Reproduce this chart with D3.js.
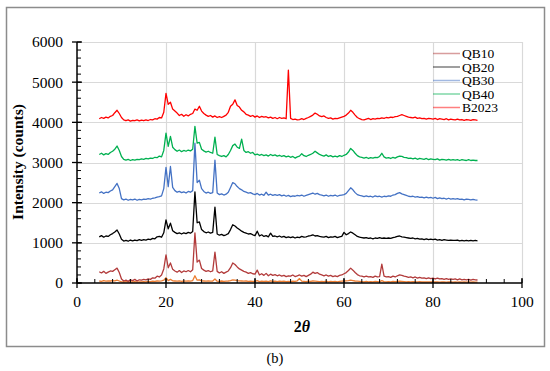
<!DOCTYPE html>
<html>
<head>
<meta charset="utf-8">
<script src="https://cdn.jsdelivr.net/npm/d3@7"></script>
<style>
  html, body { margin: 0; padding: 0; background: #fff; }
  svg text { font-family: "Liberation Serif", "Times New Roman", serif; }
</style>
</head>
<body>
<svg id="chart" width="550" height="371"></svg>
<script>
// ---- data ----
const thetaStart = 5, thetaEnd = 90, thetaStep = 0.5;
const xTicks = [0, 20, 40, 60, 80, 100];
const yTicks = [0, 1000, 2000, 3000, 4000, 5000, 6000];
const seriesNames = ["QB10", "QB20", "QB30", "QB40", "B2023"];

const B2023 = [
  4090,4120,4100,4130,4110,4150,4170,4240,4300,4220,
  4120,4060,4040,4060,4030,4050,4040,4060,4035,4055,
  4040,4060,4045,4070,4060,4090,4080,4120,4110,4250,
  4720,4450,4500,4330,4280,4230,4170,4200,4150,4190,
  4160,4200,4220,4330,4300,4400,4280,4220,4180,4150,
  4170,4130,4160,4120,4140,4120,4150,4180,4250,4400,
  4450,4560,4420,4380,4300,4260,4200,4180,4150,4170,
  4130,4160,4120,4150,4130,4140,4110,4130,4100,4120,
  4090,4120,4100,4110,4090,5300,4100,4070,4080,4060,
  4070,4090,4070,4100,4120,4150,4180,4230,4200,4160,
  4140,4160,4120,4100,4110,4080,4100,4090,4110,4130,
  4150,4180,4230,4300,4250,4180,4120,4090,4070,4060,
  4080,4100,4070,4090,4080,4100,4090,4110,4100,4120,
  4110,4130,4120,4140,4150,4170,4190,4170,4150,4130,
  4120,4110,4130,4100,4110,4090,4100,4080,4100,4090,
  4080,4100,4070,4090,4080,4070,4090,4060,4080,4070,
  4060,4080,4060,4070,4050,4070,4060,4050,4070,4060,
  4050
];
const QB40 = [
  3200,3230,3190,3220,3200,3250,3280,3330,3410,3300,
  3150,3080,3060,3080,3050,3070,3060,3080,3070,3090,
  3080,3100,3090,3110,3100,3130,3120,3160,3140,3300,
  3730,3400,3650,3380,3320,3280,3310,3270,3300,3280,
  3310,3290,3330,3900,3480,3500,3330,3290,3260,3280,
  3250,3230,3630,3200,3170,3150,3170,3140,3200,3300,
  3420,3460,3380,3350,3580,3300,3250,3270,3230,3250,
  3190,3210,3180,3200,3170,3190,3160,3200,3170,3190,
  3160,3180,3150,3170,3140,3160,3130,3150,3110,3140,
  3160,3220,3170,3150,3180,3200,3230,3280,3240,3200,
  3180,3160,3190,3150,3170,3140,3160,3140,3170,3150,
  3180,3200,3260,3350,3300,3230,3170,3140,3130,3110,
  3130,3100,3120,3110,3130,3120,3150,3230,3140,3110,
  3120,3100,3130,3110,3140,3160,3150,3130,3120,3100,
  3110,3090,3110,3080,3100,3090,3080,3100,3070,3090,
  3080,3070,3090,3060,3080,3070,3060,3080,3060,3070,
  3060,3070,3050,3070,3060,3050,3070,3050,3060,3050,
  3050
];
const QB30 = [
  2240,2270,2230,2260,2250,2290,2320,2400,2480,2350,
  2100,2070,2090,2060,2080,2070,2090,2060,2080,2070,
  2090,2080,2100,2090,2110,2120,2140,2150,2170,2350,
  2880,2400,2900,2380,2300,2260,2280,2250,2270,2240,
  2280,2260,2300,3480,2500,2560,2350,2280,2240,2260,
  2230,2250,3060,2240,2200,2220,2190,2210,2260,2380,
  2500,2470,2400,2350,2320,2280,2260,2240,2250,2220,
  2200,2230,2190,2210,2180,2260,2190,2210,2180,2200,
  2180,2200,2170,2190,2160,2180,2150,2170,2160,2180,
  2170,2190,2160,2180,2200,2220,2240,2210,2230,2200,
  2190,2170,2190,2160,2180,2170,2190,2160,2180,2190,
  2200,2230,2300,2370,2320,2250,2200,2180,2170,2150,
  2170,2150,2160,2140,2170,2150,2160,2140,2160,2150,
  2170,2160,2190,2200,2230,2250,2220,2200,2180,2160,
  2150,2160,2140,2150,2130,2140,2120,2140,2120,2130,
  2110,2130,2100,2120,2100,2110,2090,2110,2090,2100,
  2090,2100,2080,2090,2070,2090,2080,2070,2080,2070,
  2065
];
const QB20 = [
  1150,1180,1140,1170,1160,1200,1230,1270,1320,1220,
  1090,1045,1060,1040,1070,1050,1070,1055,1080,1060,
  1080,1070,1090,1080,1110,1100,1150,1160,1140,1250,
  1570,1350,1490,1300,1260,1230,1250,1220,1250,1230,
  1260,1240,1280,2270,1500,1520,1330,1280,1250,1270,
  1240,1260,1890,1220,1190,1210,1180,1200,1230,1330,
  1450,1420,1370,1330,1290,1260,1240,1220,1230,1200,
  1180,1290,1170,1200,1160,1180,1150,1240,1160,1170,
  1150,1170,1140,1160,1130,1150,1130,1150,1120,1140,
  1130,1160,1140,1150,1170,1180,1200,1170,1180,1160,
  1150,1140,1160,1130,1150,1140,1160,1130,1150,1160,
  1260,1200,1230,1270,1240,1200,1160,1140,1130,1120,
  1130,1110,1120,1100,1120,1110,1130,1110,1120,1110,
  1120,1110,1130,1140,1160,1170,1150,1140,1130,1120,
  1110,1120,1100,1110,1090,1100,1080,1100,1080,1090,
  1080,1090,1070,1080,1060,1080,1070,1060,1070,1060,
  1060,1070,1050,1060,1050,1060,1050,1060,1050,1060,
  1050
];
const QB10 = [
  280,250,290,240,270,300,290,330,370,260,
  100,50,70,40,80,60,90,50,80,70,
  90,80,100,90,130,120,170,150,200,350,
  700,380,500,340,300,270,310,260,300,280,
  310,280,330,1250,520,570,360,320,290,310,
  280,300,770,290,250,280,240,270,300,380,
  500,460,400,350,320,290,270,240,260,230,
  220,320,200,230,190,240,180,220,190,210,
  180,200,170,190,160,180,170,200,160,180,
  200,170,190,160,190,220,270,240,260,220,
  200,180,200,170,190,160,180,160,190,200,
  230,260,310,370,320,260,210,180,170,150,
  170,150,160,140,170,150,160,470,170,150,
  160,140,170,150,180,200,190,170,160,140,
  150,130,150,120,140,120,130,110,130,110,
  120,100,120,100,110,90,110,90,100,90,
  100,80,100,80,90,80,90,70,90,80,
  75
];
const baseline = [
  50,40,60,45,55,50,60,55,70,50,
  30,25,35,20,30,25,35,20,30,25,
  35,30,40,35,45,40,50,45,55,70,
  130,60,90,55,50,45,55,40,50,45,
  55,45,60,180,70,80,55,50,45,50,
  45,50,100,45,40,50,40,45,50,60,
  80,70,60,55,50,45,50,40,45,40,
  40,60,35,45,40,45,35,50,40,45,
  35,45,40,45,35,40,35,45,40,55,
  110,45,40,35,45,40,50,45,40,35,
  40,35,45,30,40,35,40,30,40,45,
  50,55,60,70,60,50,45,40,35,30,
  40,30,35,30,40,35,30,60,35,30,
  35,30,40,35,40,45,40,35,30,35,
  30,35,25,30,35,25,30,25,30,25,
  30,25,30,20,30,25,20,30,25,20,
  25,20,30,20,25,20,25,20,25,20,
  20
];

const theta = d3.range(thetaStart, thetaEnd + thetaStep / 2, thetaStep);

// ---- layout ----
const svg = d3.select("#chart");
const L = 77, R = 522, T = 42, B = 283;
const x = d3.scaleLinear().domain([0, 100]).range([L, R]);
const y = d3.scaleLinear().domain([0, 6000]).range([B, T]);

// outer frame
svg.append("rect").attr("x", 6.5).attr("y", 7.5).attr("width", 538).attr("height", 339)
  .attr("fill", "none").attr("stroke", "#8c8c8c").attr("stroke-width", 1.5);

// gridlines
const grid = svg.append("g");
grid.selectAll(".hg").data(yTicks.slice(1)).join("line")
  .attr("x1", L).attr("x2", R)
  .attr("y1", d => Math.round(y(d)) + 0.5).attr("y2", d => Math.round(y(d)) + 0.5)
  .attr("stroke", "#d9d9d9").attr("stroke-width", 1.2);
grid.selectAll(".vg").data(xTicks.slice(1)).join("line")
  .attr("y1", T).attr("y2", B)
  .attr("x1", d => Math.round(x(d)) + 0.5).attr("x2", d => Math.round(x(d)) + 0.5)
  .attr("stroke", "#d9d9d9").attr("stroke-width", 1.2);

// series
const series = [
  { name: null, data: baseline, color: "#ed7d31" },
  { name: "QB10", data: QB10, color: "#b23b3b" },
  { name: "QB20", data: QB20, color: "#000000" },
  { name: "QB30", data: QB30, color: "#4472c4" },
  { name: "QB40", data: QB40, color: "#00b050" },
  { name: "B2023", data: B2023, color: "#ff0000" }
];
const line = d3.line().x((d, i) => x(theta[i])).y(d => y(d));
svg.append("g").selectAll("path").data(series).join("path")
  .attr("d", s => line(s.data))
  .attr("fill", "none").attr("stroke", s => s.color)
  .attr("stroke-width", 1.3).attr("stroke-linejoin", "round");

// axes
const yMinor = d3.range(0, 6001, 200);
const xMinor = d3.range(0, 101, 4);
const ax = svg.append("g").attr("stroke", "#000");
ax.append("line").attr("x1", L).attr("x2", L).attr("y1", T).attr("y2", B + 0.5).attr("stroke-width", 1.5);
ax.append("line").attr("x1", L).attr("x2", R).attr("y1", B).attr("y2", B).attr("stroke-width", 1.5);
ax.selectAll(".ymi").data(yMinor).join("line")
  .attr("x1", L).attr("x2", L + 4).attr("y1", d => y(d)).attr("y2", d => y(d)).attr("stroke-width", 1);
ax.selectAll(".yma").data(yTicks).join("line")
  .attr("x1", L - 5).attr("x2", L + 5).attr("y1", d => y(d)).attr("y2", d => y(d)).attr("stroke-width", 1.3);
ax.selectAll(".xmi").data(xMinor).join("line")
  .attr("y1", B).attr("y2", B - 4).attr("x1", d => x(d)).attr("x2", d => x(d)).attr("stroke-width", 1);
ax.selectAll(".xma").data(xTicks).join("line")
  .attr("y1", B - 5).attr("y2", B + 5).attr("x1", d => x(d)).attr("x2", d => x(d)).attr("stroke-width", 1.3);

svg.append("g").selectAll("text").data(yTicks).join("text")
  .attr("x", 63).attr("y", d => y(d)).attr("dy", "0.35em")
  .attr("text-anchor", "end").attr("font-size", 15.5).text(d => d);
svg.append("g").selectAll("text").data(xTicks).join("text")
  .attr("x", d => x(d)).attr("y", 307)
  .attr("text-anchor", "middle").attr("font-size", 15.5).text(d => d);

// axis titles
svg.append("text").attr("transform", "translate(23,162) rotate(-90)")
  .attr("text-anchor", "middle").attr("font-size", 15.5).attr("font-weight", "bold")
  .text("Intensity (counts)");
const xt = svg.append("text").attr("x", 302).attr("y", 332)
  .attr("text-anchor", "middle").attr("font-size", 16).attr("font-weight", "bold");
xt.append("tspan").text("2");
xt.append("tspan").attr("font-style", "italic").text("θ");

svg.append("text").attr("x", 275).attr("y", 363).attr("text-anchor", "middle")
  .attr("font-size", 14.5).text("(b)");

// legend
const leg = svg.append("g");
const legItems = series.filter(s => s.name);
legItems.forEach((s, i) => {
  const yy = 53.5 + i * 13.5;
  leg.append("line").attr("x1", 433).attr("x2", 460).attr("y1", yy).attr("y2", yy)
    .attr("stroke", s.color).attr("stroke-opacity", 0.5).attr("stroke-width", 1.5);
  leg.append("text").attr("x", 462).attr("y", yy).attr("dy", "0.35em")
    .attr("font-size", 13.5).text(s.name);
});
</script>
</body>
</html>
